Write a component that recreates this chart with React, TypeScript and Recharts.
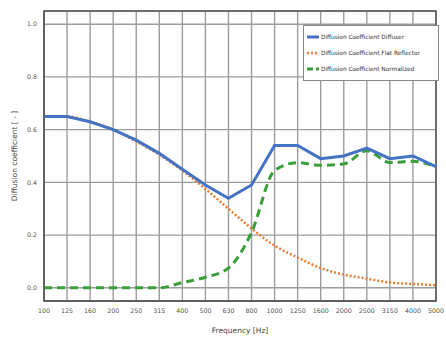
import { LineChart, Line, XAxis, YAxis, CartesianGrid, ReferenceArea } from "recharts";

const FREQUENCIES = ["100", "125", "160", "200", "250", "315", "400", "500", "630", "800", "1000", "1250", "1600", "2000", "2500", "3150", "4000", "5000"];
const DIFFUSER = [0.65, 0.65, 0.63, 0.6, 0.56, 0.51, 0.45, 0.39, 0.34, 0.39, 0.54, 0.54, 0.49, 0.5, 0.53, 0.49, 0.5, 0.46];
const FLAT_REFLECTOR = [0.65, 0.65, 0.63, 0.6, 0.555, 0.505, 0.445, 0.375, 0.3, 0.225, 0.16, 0.115, 0.075, 0.05, 0.035, 0.02, 0.015, 0.01];
const NORMALIZED = [0, 0, 0, 0, 0, 0, 0.02, 0.04, 0.075, 0.21, 0.445, 0.475, 0.465, 0.47, 0.52, 0.475, 0.48, 0.46];
const Y_TICKS = [0, 0.2, 0.4, 0.6, 0.8, 1.0];

const data = FREQUENCIES.map((f, i) => ({
  freq: f,
  diffuser: DIFFUSER[i],
  flat: FLAT_REFLECTOR[i],
  normalized: NORMALIZED[i],
}));

const legendItems = [
  { label: "Diffusion Coefficient Diffuser", color: "#4472C4", dash: undefined, width: 3 },
  { label: "Diffusion Coefficient Flat Reflector", color: "#ED7D31", dash: "2 2", width: 2.5 },
  { label: "Diffusion Coefficient Normalized", color: "#3A9F3A", dash: "6 3", width: 3 },
];

function LegendBox() {
  return (
    <div
      style={{
        position: "absolute",
        left: 303,
        top: 25,
        width: 128,
        height: 48,
        background: "#fff",
        border: "1px solid #888",
        padding: "3px 3px 3px 3px",
      }}
    >
      {legendItems.map((it) => (
        <div key={it.label} style={{ display: "flex", alignItems: "center", height: 16 }}>
          <svg width={12} height={6} style={{ marginRight: 2 }}>
            <line x1={0} y1={3} x2={12} y2={3} stroke={it.color} strokeWidth={it.width} strokeDasharray={it.dash} />
          </svg>
          <span style={{ fontSize: 5.8, color: "#333", whiteSpace: "nowrap" }}>{it.label}</span>
        </div>
      ))}
    </div>
  );
}

export default function App() {
  return (
    <div style={{ position: "absolute", left: 0, top: 0, width: 446, height: 337, fontFamily: "'DejaVu Sans', sans-serif" }}>
      <LineChart width={446} height={337} data={data} margin={{ top: 11, right: 10, left: 0, bottom: 0 }}>
        <CartesianGrid stroke="#9c9c9c" strokeWidth={1.4} />
        <XAxis
          dataKey="freq"
          stroke="#555"
          tick={{ fontSize: 6.3, fill: "#555" }}
          tickLine={false}
          height={36}
          interval={0}
          label={{ value: "Frequency [Hz]", position: "insideBottom", offset: 4, fontSize: 7.5, fill: "#444" }}
        />
        <YAxis
          type="number"
          domain={[-0.05, 1.05]}
          ticks={Y_TICKS}
          tickFormatter={(v: number) => v.toFixed(1)}
          stroke="#555"
          tick={{ fontSize: 6.3, fill: "#555" }}
          tickLine={false}
          tickMargin={1}
          width={44}
          label={{ value: "Diffusion coefficient [ - ]", angle: -90, position: "insideLeft", offset: 14, fontSize: 7.5, fill: "#444", style: { textAnchor: "middle" } }}
        />
        <ReferenceArea x1="100" x2="5000" y1={-0.05} y2={1.05} fill="none" stroke="#555" strokeWidth={1.5} />
        <Line type="monotone" dataKey="flat" stroke="#ED7D31" strokeWidth={2.5} strokeDasharray="2 2" dot={false} isAnimationActive={false} />
        <Line type="monotone" dataKey="normalized" stroke="#3A9F3A" strokeWidth={3} strokeDasharray="8 5" dot={false} isAnimationActive={false} />
        <Line type="linear" dataKey="diffuser" stroke="#4472C4" strokeWidth={3} dot={false} isAnimationActive={false} />
      </LineChart>
      <LegendBox />
    </div>
  );
}
